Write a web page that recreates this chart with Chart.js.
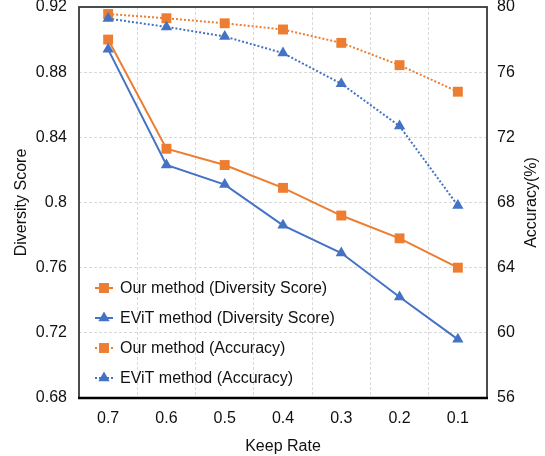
<!DOCTYPE html>
<html>
<head>
<meta charset="utf-8">
<script src="https://cdn.jsdelivr.net/npm/chart.js@4.4.1/dist/chart.umd.min.js"></script>
<style>
  html, body { margin: 0; padding: 0; background: #fff; }
</style>
</head>
<body>
<canvas id="chart" width="545" height="456"></canvas>
<script>
const keepRates = ['0.7', '0.6', '0.5', '0.4', '0.3', '0.2', '0.1'];
const ourDiversity = [0.900, 0.833, 0.823, 0.809, 0.792, 0.778, 0.760];
const evitDiversity = [0.894, 0.823, 0.811, 0.786, 0.769, 0.742, 0.716];
const ourAccuracy = [79.57, 79.31, 79.0, 78.62, 77.8, 76.43, 74.8];
const evitAccuracy = [79.29, 78.78, 78.19, 77.17, 75.29, 72.69, 67.81];
const diversityTicks = [0.68, 0.72, 0.76, 0.8, 0.84, 0.88, 0.92];
const accuracyTicks = [56, 60, 64, 68, 72, 76, 80];

const orange = '#ED7D31';
const blue = '#4472C4';
const fontFamily = "'Liberation Sans', Arial, sans-serif";

Chart.defaults.font.family = fontFamily;
Chart.defaults.font.size = 16;
Chart.defaults.color = '#111';

// draw a marker the same way for the legend
const drawMarker = (ctx, style, r, x, y, color) => {
    ctx.fillStyle = color;
    ctx.beginPath();
    if (style === 'rect') {
        const s = Math.SQRT1_2 * r;
        ctx.rect(x - s, y - s, 2 * s, 2 * s);
    } else {
        ctx.moveTo(x, y - r);
        ctx.lineTo(x + r * Math.sin(Math.PI / 3), y + r / 2);
        ctx.lineTo(x - r * Math.sin(Math.PI / 3), y + r / 2);
        ctx.closePath();
    }
    ctx.fill();
};

// legend inside the plot, bottom left
const insideLegend = {
    id: 'insideLegend',
    afterDatasetsDraw(chart) {
        const ctx = chart.ctx;
        const x0 = 95, x1 = 113;
        chart.data.datasets.forEach((ds, i) => {
            const y = 288 + i * 30;
            ctx.save();
            ctx.strokeStyle = ds.borderColor;
            ctx.lineWidth = ds.borderWidth;
            ctx.setLineDash(ds.borderDash || []);
            ctx.beginPath();
            ctx.moveTo(x0, y);
            ctx.lineTo(x1, y);
            ctx.stroke();
            ctx.setLineDash([]);
            drawMarker(ctx, ds.pointStyle, ds.pointRadius, (x0 + x1) / 2, y, ds.borderColor);
            ctx.fillStyle = '#111';
            ctx.font = '16px ' + fontFamily;
            ctx.textBaseline = 'middle';
            ctx.fillText(ds.label, 120, y + 1);
            ctx.restore();
        });
    }
};

// plot frame, heavier at the bottom, and the right title read bottom-up
const frame = {
    id: 'frame',
    afterDraw(chart) {
        const { left, right, top, bottom } = chart.chartArea;
        const ctx = chart.ctx;
        ctx.save();
        ctx.strokeStyle = '#3a3a3a';
        ctx.lineWidth = 1.8;
        ctx.strokeRect(left, top, right - left, bottom - top);
        ctx.strokeStyle = '#000';
        ctx.lineWidth = 2.6;
        ctx.beginPath();
        ctx.moveTo(left - 1, bottom);
        ctx.lineTo(right + 1, bottom);
        ctx.stroke();

        ctx.translate(532, (top + bottom) / 2);
        ctx.rotate(-Math.PI / 2);
        ctx.fillStyle = '#111';
        ctx.font = '16px ' + fontFamily;
        ctx.textAlign = 'center';
        ctx.textBaseline = 'middle';
        ctx.fillText('Accuracy(%)', 0, 0);
        ctx.restore();
    }
};

const fixTicks = list => scale => {
    scale.ticks = list.map(v => ({ value: v }));
};

const fixSize = (w, h) => scale => {
    if (w !== null) scale.width = w;
    if (h !== null) scale.height = h;
    scale.paddingTop = 0;
    scale.paddingBottom = 0;
    scale.paddingLeft = 0;
    scale.paddingRight = 0;
};

new Chart(document.getElementById('chart'), {
    type: 'line',
    data: {
        labels: keepRates,
        datasets: [
            {
                label: 'Our method (Diversity Score)',
                data: ourDiversity,
                yAxisID: 'y',
                borderColor: orange,
                backgroundColor: orange,
                borderWidth: 2,
                pointStyle: 'rect',
                pointRadius: 7,
                pointBorderWidth: 0,
                order: 4
            },
            {
                label: 'EViT method (Diversity Score)',
                data: evitDiversity,
                yAxisID: 'y',
                borderColor: blue,
                backgroundColor: blue,
                borderWidth: 2,
                pointStyle: 'triangle',
                pointRadius: 6.5,
                pointBorderWidth: 0,
                order: 3
            },
            {
                label: 'Our method (Accuracy)',
                data: ourAccuracy,
                yAxisID: 'y1',
                borderColor: orange,
                backgroundColor: orange,
                borderWidth: 2,
                borderDash: [2, 2],
                pointStyle: 'rect',
                pointRadius: 7,
                pointBorderWidth: 0,
                order: 2
            },
            {
                label: 'EViT method (Accuracy)',
                data: evitAccuracy,
                yAxisID: 'y1',
                borderColor: blue,
                backgroundColor: blue,
                borderWidth: 2,
                borderDash: [2, 2],
                pointStyle: 'triangle',
                pointRadius: 6.5,
                pointBorderWidth: 0,
                order: 1
            }
        ]
    },
    options: {
        responsive: false,
        animation: false,
        layout: { padding: { top: 5, left: 0, right: 0, bottom: 0 } },
        plugins: {
            legend: { display: false },
            tooltip: { enabled: false }
        },
        elements: { line: { tension: 0 } },
        scales: {
            x: {
                offset: true,
                grid: { offset: true, color: '#d9d9d9', drawTicks: false },
                border: { display: false, dash: [3, 2] },
                ticks: { padding: 11, maxRotation: 0 },
                title: { display: true, text: 'Keep Rate', padding: { top: 8, bottom: 0 } },
                afterFit: fixSize(null, 58)
            },
            y: {
                position: 'left',
                min: 0.68,
                max: 0.92,
                afterBuildTicks: fixTicks(diversityTicks),
                grid: { color: '#d9d9d9', drawTicks: false },
                border: { display: false, dash: [3, 2] },
                ticks: { padding: 12, callback: v => String(+v.toFixed(2)) },
                title: { display: true, text: 'Diversity Score', padding: { top: 12, bottom: 0 } },
                afterFit: fixSize(79, null)
            },
            y1: {
                position: 'right',
                min: 56,
                max: 80,
                afterBuildTicks: fixTicks(accuracyTicks),
                grid: { display: false, drawTicks: false },
                border: { display: false },
                ticks: { padding: 10 },
                afterFit: fixSize(58, null)
            }
        }
    },
    plugins: [insideLegend, frame]
});
</script>
</body>
</html>
